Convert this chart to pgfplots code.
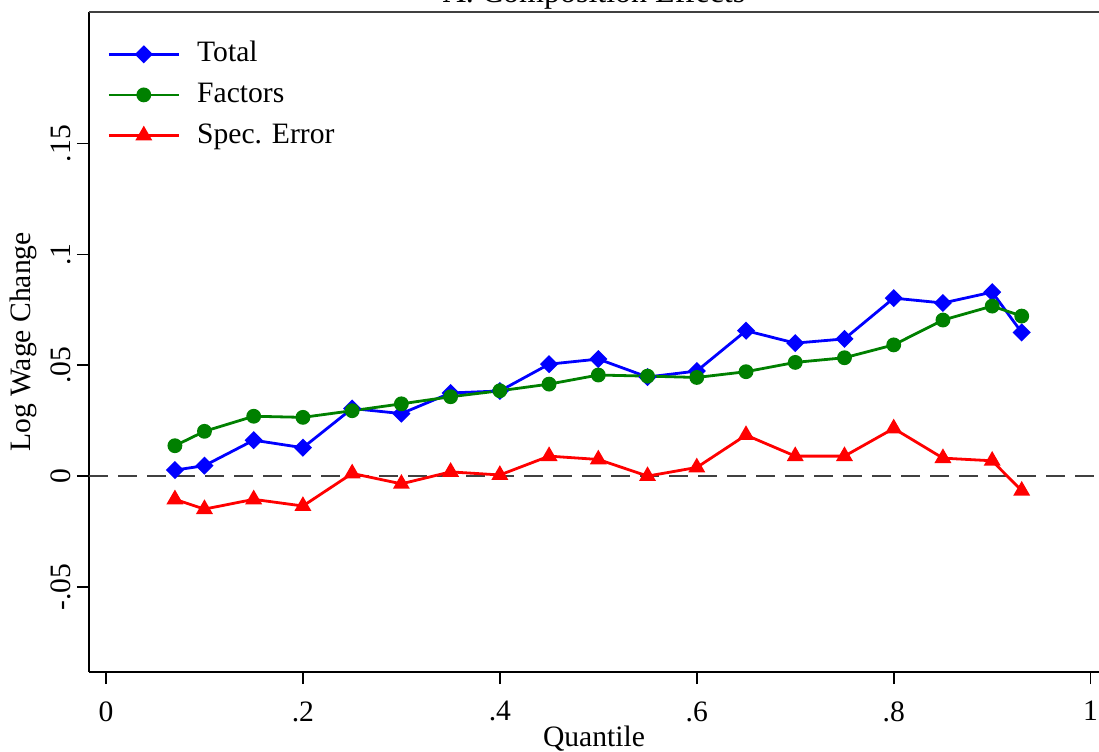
\documentclass[border=0pt]{standalone}
\usepackage{fontspec}
\setmainfont{Liberation Serif}
\usepackage{pgfplots}
\pgfplotsset{compat=1.18}
\usepackage{pgfplotstable}
\definecolor{sblue}{RGB}{0,0,255}
\definecolor{sgreen}{RGB}{0,128,0}
\definecolor{sred}{RGB}{255,0,0}
\definecolor{frame}{RGB}{64,64,64}

\pgfplotstableread{
q v
0.07 0.0027
0.10 0.0047
0.15 0.0162
0.20 0.0128
0.25 0.0305
0.30 0.0282
0.35 0.0375
0.40 0.0384
0.45 0.0505
0.50 0.0528
0.55 0.0447
0.60 0.0474
0.65 0.0656
0.70 0.0600
0.75 0.0619
0.80 0.0803
0.85 0.0781
0.90 0.0830
0.93 0.0648
}\total
\pgfplotstableread{
q v
0.07 0.0137
0.10 0.0202
0.15 0.0270
0.20 0.0265
0.25 0.0295
0.30 0.0326
0.35 0.0358
0.40 0.0385
0.45 0.0415
0.50 0.0456
0.55 0.0451
0.60 0.0445
0.65 0.0471
0.70 0.0513
0.75 0.0534
0.80 0.0592
0.85 0.0704
0.90 0.0767
0.93 0.0722
}\factors
\pgfplotstableread{
q v
0.07 -0.0105
0.10 -0.0149
0.15 -0.0105
0.20 -0.0135
0.25 0.0012
0.30 -0.0035
0.35 0.0019
0.40 0.0005
0.45 0.0090
0.50 0.0075
0.55 0.0000
0.60 0.0039
0.65 0.0185
0.70 0.0090
0.75 0.0090
0.80 0.0215
0.85 0.0081
0.90 0.0069
0.93 -0.0066
}\specerr

\begin{document}
\fontsize{14.5}{17}\selectfont
\begin{tikzpicture}
\begin{axis}[
  name=ax,
  scale only axis, width=505pt, height=330pt,
  xmin=-0.01726, xmax=1.0085, ymin=-0.0884, ymax=0.2094,
  axis x line*=bottom, axis y line*=left,
  axis line style={line width=0.8pt, -},
  xtick={0,0.2,0.4,0.6,0.8,1}, xticklabels={0,.2,.4,.6,.8,1},
  ytick={-0.05,0,0.05,0.1,0.15}, yticklabels={-.05,0,.05,.1,.15},
  tick align=outside, major tick length=6pt,
  tick style={line width=0.8pt, black},
  minor tick num=0,
  ticklabel style={font=\fontsize{14.8}{17}\selectfont},
  yticklabel style={rotate=90, anchor=south, inner sep=3pt},
  xticklabel style={inner sep=2pt, yshift=-6.5pt},
  every axis x label/.style={at={(rel axis cs:0.5,0)}, yshift=-33.5pt, anchor=center, font=\fontsize{14.8}{17}\selectfont},
  every axis y label/.style={at={(rel axis cs:0,0.5)}, xshift=-33pt, rotate=90, anchor=center, font=\fontsize{14.8}{17}\selectfont},
  xlabel=Quantile, ylabel=Log Wage Change,
  clip=false,
  legend style={draw=none, fill=none, at={(0,1)}, anchor=north west,
    xshift=6pt, yshift=-10.2pt, font=\fontsize{14.8}{17}\selectfont,
    nodes={text height=10.5pt, text depth=3pt, inner sep=2pt},
    row sep=2.8pt},
  legend cell align=left,
  legend image code/.code={\draw[mark repeat=2,mark phase=2,#1] plot coordinates {(0pt,0pt) (17.5pt,0pt) (35pt,0pt)}; \path (41.5pt,0pt);},
]
\draw[frame, dash pattern=on 9.5pt off 5pt, line width=0.9pt] (axis cs:-0.01726,0) -- (axis cs:1.0085,0);
\addplot[sblue, line width=1.4pt, mark=square*, mark size=2.5pt, mark options={rotate=45, solid}] table[x=q,y=v]{\total};
\addlegendentry{Total}
\addplot[sgreen, line width=1.4pt, mark=*, mark size=3pt, mark options={solid}] table[x=q,y=v]{\factors};
\addlegendentry{Factors}
\addplot[sred, line width=1.4pt, mark=triangle*, mark size=3.5pt, mark options={solid}] table[x=q,y=v]{\specerr};
\addlegendentry{Spec. Error}
\draw[frame, line width=1.1pt] (rel axis cs:0,1) -- (rel axis cs:1,1);
\node[anchor=base, font=\fontsize{16}{19}\selectfont] at ([yshift=5pt]rel axis cs:0.5,1) {A. Composition Effects};
\end{axis}
\pgfresetboundingbox
\useasboundingbox ([xshift=-44.5pt,yshift=-39.5pt]ax.south west) rectangle ([yshift=6pt]ax.north east);
\end{tikzpicture}
\end{document}
